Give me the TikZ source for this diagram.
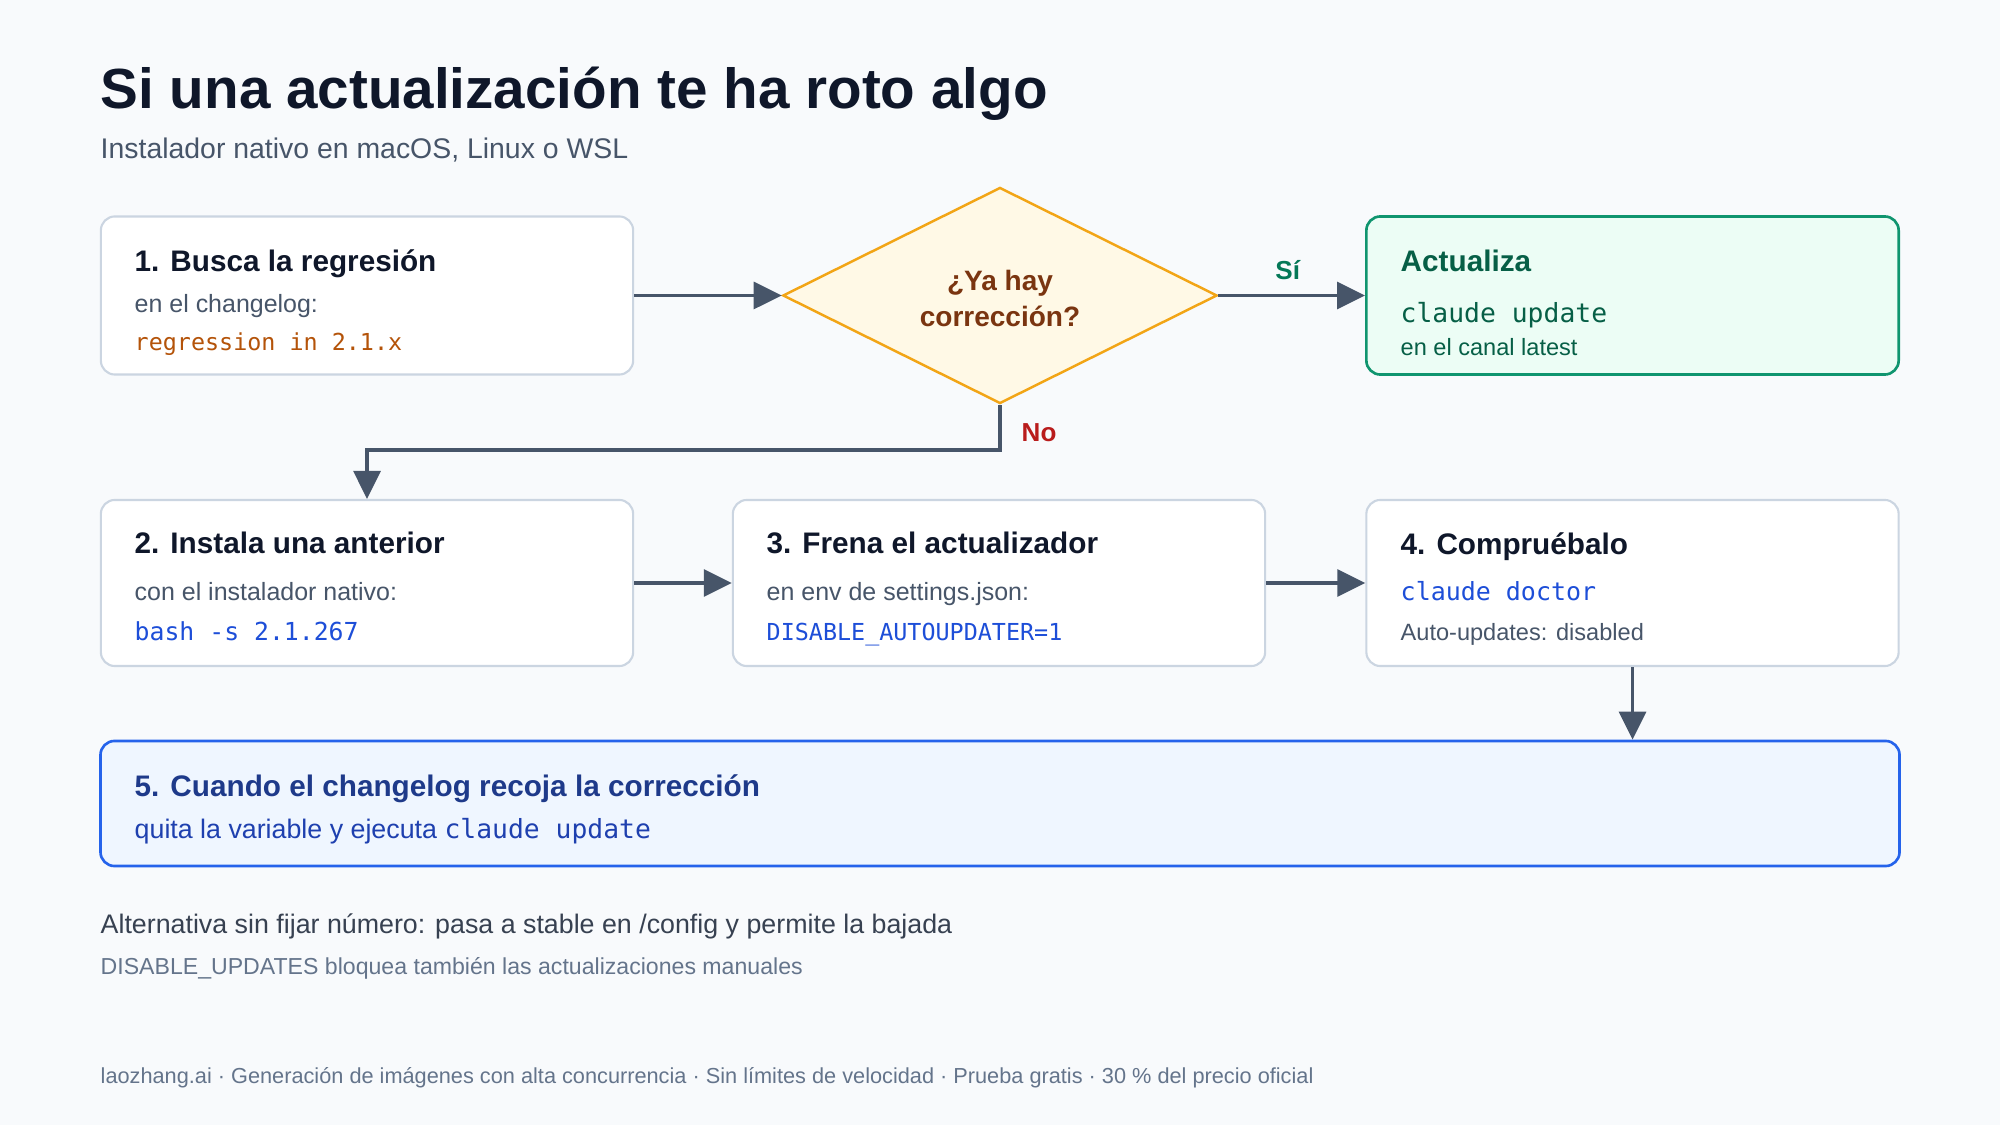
\documentclass[tikz,border=0pt]{standalone}
\usepackage{fontspec}
\setmainfont{Liberation Sans}
\setmonofont{DejaVu Sans Mono}
\usepackage{xcolor}
\usetikzlibrary{arrows.meta,shapes.geometric}
\definecolor{pagebg}{HTML}{F8FAFC}
\definecolor{inkdark}{HTML}{0F172A}
\definecolor{inkgray}{HTML}{475569}
\definecolor{boxline}{HTML}{CBD5E1}
\definecolor{arrowgray}{HTML}{475569}
\definecolor{codeorange}{HTML}{B45309}
\definecolor{codeblue}{HTML}{1D4ED8}
\definecolor{decline}{HTML}{F2A516}
\definecolor{decfill}{HTML}{FFF9E6}
\definecolor{dectext}{HTML}{7A3510}
\definecolor{okline}{HTML}{10956F}
\definecolor{okfill}{HTML}{ECFDF5}
\definecolor{okink}{HTML}{065F46}
\definecolor{lastline}{HTML}{2563EB}
\definecolor{lastfill}{HTML}{EFF6FF}
\definecolor{lastink}{HTML}{1E3A8A}
\definecolor{lastsub}{HTML}{1E40AF}
\definecolor{noteink}{HTML}{374151}
\definecolor{softink}{HTML}{64748B}
\definecolor{yesgreen}{HTML}{047857}
\definecolor{nored}{HTML}{B91C1C}
\tikzset{
  stepbox/.style={draw=boxline,fill=white,line width=0.6pt,rounded corners=0.14cm,
    minimum width=5.32cm,minimum height=1.66cm},
  okbox/.style={draw=okline,fill=okfill,line width=0.75pt,rounded corners=0.14cm,
    minimum width=5.32cm,minimum height=1.58cm},
  lastbox/.style={draw=lastline,fill=lastfill,line width=0.75pt,rounded corners=0.14cm,
    minimum width=17.98cm,minimum height=1.25cm},
  decision/.style={diamond,draw=decline,fill=decfill,line width=0.7pt,aspect=2,inner sep=0pt,
    minimum width=4.34cm,minimum height=2.16cm},
  dectextstyle/.style={inner sep=0pt,align=center,text=dectext,
    font=\fontsize{7.97}{10.25}\selectfont\bfseries},
  flowarrow/.style={-{Triangle[length=0.28cm,width=0.27cm]},draw=arrowgray,line width=0.9pt},
  txt/.style={anchor=base west,inner sep=0pt},
  headtext/.style={txt,text=inkdark,font=\fontsize{8.45}{10}\selectfont\bfseries},
  subtext/.style={txt,text=inkgray,font=\fontsize{7.1}{8.5}\selectfont},
  smalltext/.style={txt,text=inkgray,font=\fontsize{6.7}{8}\selectfont},
  codetext/.style={txt,text=codeblue,font=\fontsize{6.85}{8}\selectfont\ttfamily},
  bigcode/.style={txt,font=\fontsize{7.5}{9}\selectfont\ttfamily},
  branchlabel/.style={inner sep=0pt,font=\fontsize{7.4}{9}\selectfont\bfseries}
}

\begin{document}
\begin{tikzpicture}[x=0.01cm,y=-0.01cm]
  \fill[pagebg] (0,0) rectangle (2000,1125);
  \node[txt,text=inkdark,font=\fontsize{16.1}{19}\selectfont\bfseries] (title) at (100,109)
    {Si una actualización te ha roto algo};
  \node[txt,text=inkgray,font=\fontsize{8.08}{10}\selectfont] (subtitle) at (100,159)
    {Instalador nativo en macOS, Linux o WSL};

  \node[stepbox,minimum height=1.58cm] (b1) at (367,295.5) {};
  \node[decision] (dia) at (1000,295.5) {};
  \node[dectextstyle] (diatext) at (1000,298.5) {¿Ya hay\\corrección?};
  \node[okbox] (yes) at (1632.5,295.5) {};
  \node[stepbox] (b2) at (367,583) {};
  \node[stepbox] (b3) at (999,583) {};
  \node[stepbox] (b4) at (1632.5,583) {};
  \node[lastbox] (b5) at (1000,803.5) {};

  \node[headtext] (b1h) at (134,272) {1. Busca la regresión};
  \node[subtext] (b1s) at (134,313) {en el changelog:};
  \node[codetext,text=codeorange,font=\fontsize{6.65}{8}\selectfont\ttfamily] (b1c) at (134,351)
    {regression in 2.1.x};

  \node[headtext,text=okink] (yesh) at (1400,272) {Actualiza};
  \node[bigcode,text=okink] (yesc) at (1400,323) {claude update};
  \node[smalltext,text=okink] (yess) at (1400,356) {en el canal latest};

  \node[headtext] (b2h) at (134,554) {2. Instala una anterior};
  \node[subtext] (b2s) at (134,601) {con el instalador nativo:};
  \node[codetext,font=\fontsize{7.05}{8}\selectfont\ttfamily] (b2c) at (134,641) {bash -s 2.1.267};

  \node[headtext] (b3h) at (766,554) {3. Frena el actualizador};
  \node[subtext] (b3s) at (766,601) {en env de settings.json:};
  \node[codetext,font=\fontsize{6.65}{8}\selectfont\ttfamily] (b3c) at (766,641)
    {DISABLE\_AUTOUPDATER=1};

  \node[headtext] (b4h) at (1400,555) {4. Compruébalo};
  \node[codetext,font=\fontsize{7.1}{8}\selectfont\ttfamily] (b4c) at (1400,601) {claude doctor};
  \node[smalltext] (b4s) at (1400,641) {Auto-updates: disabled};

  \node[headtext,text=lastink] (b5h) at (134,796) {5. Cuando el changelog recoja la corrección};
  \node[txt,text=lastsub,font=\fontsize{7.62}{9}\selectfont] (b5s) at (134,838)
    {quita la variable y ejecuta {\fontsize{7.5}{9}\selectfont\ttfamily claude update}};

  \coordinate (nobend) at (1000,450);
  \draw[flowarrow] (b1.east) -- (dia.west);
  \draw[flowarrow] (dia.east) -- node[branchlabel,text=yesgreen,above=0.14cm,xshift=-0.04cm] (silbl) {Sí} (yes.west);
  \draw[flowarrow] (dia.south) -- (nobend) -| (b2.north);
  \node[branchlabel,text=nored,anchor=base west] (nolbl) at (1021,442) {No};
  \draw[flowarrow] (b2.east) -- (b3.west);
  \draw[flowarrow] (b3.east) -- (b4.west);
  \draw[flowarrow] (b4.south) -- (b4.south |- b5.north);

  \node[txt,text=noteink,font=\fontsize{7.62}{9}\selectfont] (note1) at (100,933)
    {Alternativa sin fijar número: pasa a stable en /config y permite la bajada};
  \node[txt,text=softink,font=\fontsize{6.57}{8}\selectfont] (note2) at (100,974)
    {DISABLE\_UPDATES bloquea también las actualizaciones manuales};
  \node[txt,text=softink,font=\fontsize{6.18}{8}\selectfont] (footer) at (100,1083)
    {laozhang.ai · Generación de imágenes con alta concurrencia · Sin límites de velocidad · Prueba gratis · 30 \% del precio oficial};
\end{tikzpicture}
\end{document}
